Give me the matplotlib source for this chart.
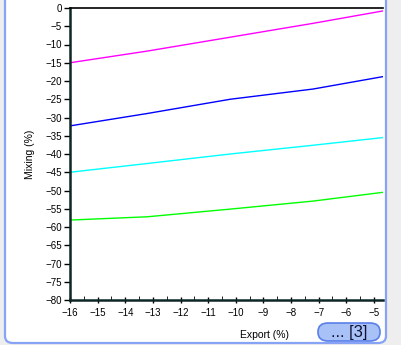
import matplotlib
matplotlib.use("Agg")
import matplotlib.pyplot as plt
from matplotlib.patches import FancyBboxPatch
from matplotlib.ticker import MultipleLocator

plt.rcParams['font.family'] = ['Liberation Sans', 'DejaVu Sans']

export_x = [-16, -13.2, -10.2, -7.2, -4.67]
magenta = [-15.0, -11.8, -8.0, -4.2, -0.8]
blue = [-32.3, -28.9, -25.0, -22.2, -18.8]
cyan = [-45.0, -42.6, -40.0, -37.6, -35.5]
green = [-58.1, -57.2, -55.1, -52.9, -50.5]
series = [(magenta, '#ff00ff'), (blue, '#0000ff'), (cyan, '#00ffff'), (green, '#00ff00')]

W, H = 401, 345
fig = plt.figure(figsize=(W / 100, H / 100), dpi=100)
fig.patch.set_facecolor('#eeeeee')

# container frame
frame = FancyBboxPatch((5 / W, 2 / H), 381 / W, 1.2, boxstyle="round,pad=0,rounding_size=0.02",
                       transform=fig.transFigure, facecolor='white', edgecolor='#86a3f5',
                       linewidth=1.6, zorder=-5)
fig.patches.append(frame)

ax = fig.add_axes([70 / W, 1 - 300 / H, 313 / W, 292 / H])
ax.set_zorder(1)
for vals, c in series:
    ax.plot(export_x, vals, color=c, linewidth=1.0)

ax.set_xlim(-16, -4.67)
ax.set_ylim(-80, 0)
ax.xaxis.set_major_locator(MultipleLocator(1))
ax.xaxis.set_minor_locator(MultipleLocator(0.5))
ax.yaxis.set_major_locator(MultipleLocator(5))
ax.tick_params(axis='both', labelsize=7, colors='black', width=1.0)
ax.tick_params(axis='x', direction='inout', length=5, pad=3)
ax.tick_params(axis='x', which='minor', direction='in', length=3)
ax.tick_params(axis='y', direction='out', length=4, pad=2)
ax.spines['right'].set_visible(False)
ax.spines['top'].set_linewidth(1.2)
ax.spines['left'].set_linewidth(1.8)
ax.spines['left'].set_color('#0d2626')
ax.spines['bottom'].set_linewidth(1.8)
ax.spines['bottom'].set_color('#0d2626')

ax.set_xlabel('Export (%)', fontsize=7.5)
ax.xaxis.set_label_coords((265 - 70) / 313, -30 / 292)
ax.set_ylabel('Mixing (%)', fontsize=7.5)
ax.yaxis.set_label_coords(-35 / 313, 0.5)

# button
btn = FancyBboxPatch((318 / W, 4 / H), 62 / W, 18 / H, boxstyle="round,pad=0,rounding_size=0.025",
                     transform=fig.transFigure, facecolor='#a8c2f7', edgecolor='#5a7fe8',
                     linewidth=1.2, zorder=5)
fig.patches.append(btn)
fig.text(349 / W, 12.5 / H, '... [3]', fontsize=12, ha='center', va='center', color='#111133', zorder=6)

fig.savefig('out.png', dpi=100, facecolor=fig.get_facecolor())
